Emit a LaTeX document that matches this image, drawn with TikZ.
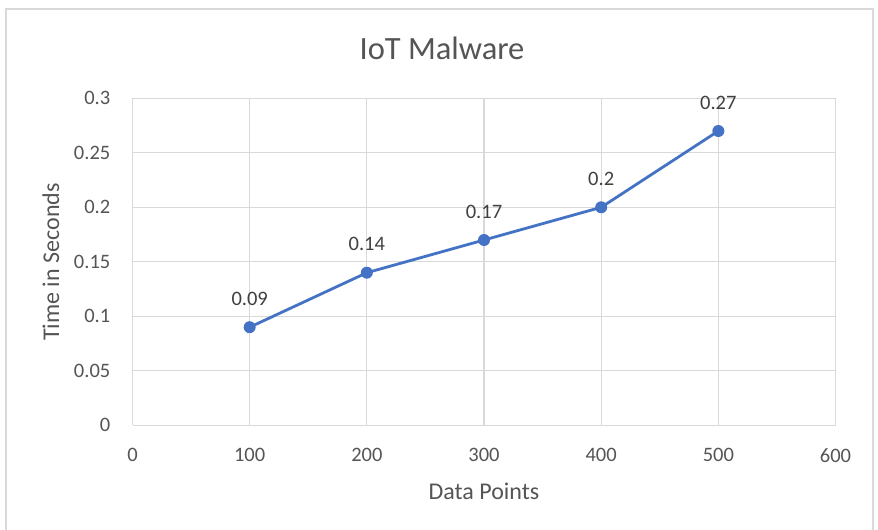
\documentclass[tikz,border=0pt]{standalone}
\usepackage{fontspec}
\setmainfont{Carlito}
\definecolor{gridgray}{HTML}{D9D9D9}
\definecolor{framegray}{HTML}{D9D9D9}
\definecolor{labelgray}{HTML}{555555}
\definecolor{datagray}{HTML}{404040}
\definecolor{seriesblue}{HTML}{4472C4}
\tikzset{
  gridline/.style={draw=gridgray, line width=1.3pt},
  ticklabel/.style={text=labelgray, font=\fontsize{20.5}{24}\selectfont, inner sep=0pt},
  datalabel/.style={text=datagray, font=\fontsize{20.5}{24}\selectfont, inner sep=0pt},
  axistitle/.style={text=labelgray, font=\fontsize{24}{28}\selectfont, inner sep=0pt},
  charttitle/.style={text=labelgray, font=\fontsize{32.5}{38}\selectfont, inner sep=0pt},
  seriesline/.style={draw=seriesblue, line width=2.8pt, line join=round},
  marker/.style={circle, fill=seriesblue, inner sep=0pt, minimum size=12pt}
}
\begin{document}
\begin{tikzpicture}[x=1pt, y=-1pt]
  \useasboundingbox (0,0) rectangle (878,530);
  \fill[white] (0,0) rectangle (878,530);
  % chart frame
  \begin{scope}
    \clip (0,0) rectangle (878,530);
    \draw[framegray, line width=1.5pt] (6,9) rectangle (873,545);
  \end{scope}
  % title
  \node[charttitle] (title) at (442,48) {IoT Malware};
  % plot area in data coordinates
  \begin{scope}[shift={(132.5pt,-425.3pt)}, x=1.1717pt, y=1090pt]
    \foreach \v in {0,0.05,...,0.31} {
      \draw[gridline] (0,\v) -- (600,\v);
    }
    \foreach \u in {0,100,...,600} {
      \draw[gridline] (\u,0) -- (\u,0.3);
    }
    % y tick labels
    \foreach \v/\t in {0/0,0.05/0.05,0.1/0.1,0.15/0.15,0.2/0.2,0.25/0.25,0.3/0.3} {
      \node[ticklabel, anchor=east] at ([xshift=-22pt]0,\v) {\t};
    }
    % x tick labels
    \foreach \u in {0,100,...,600} {
      \node[ticklabel] at ([yshift=-30pt]\u,0) {\u};
    }
    % series
    \coordinate (p1) at (100,0.09);
    \coordinate (p2) at (200,0.14);
    \coordinate (p3) at (300,0.17);
    \coordinate (p4) at (400,0.2);
    \coordinate (p5) at (500,0.27);
    \draw[seriesline] (p1) -- (p2) -- (p3) -- (p4) -- (p5);
    \foreach \i/\t in {1/0.09,2/0.14,3/0.17,4/0.2,5/0.27} {
      \node[marker] (m\i) at (p\i) {};
      \node[datalabel] (d\i) at ([yshift=28.5pt]p\i) {\t};
    }
  \end{scope}
  % axis titles
  \node[axistitle] (xtitle) at (484,491) {Data Points};
  \node[axistitle, rotate=90] (ytitle) at (51,262) {Time in Seconds};
\end{tikzpicture}
\end{document}
